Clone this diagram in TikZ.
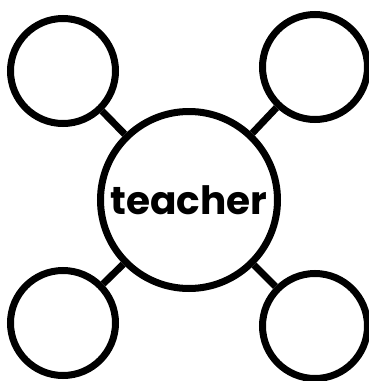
\documentclass[tikz,border=0pt]{standalone}
\usepackage{fontspec}
\setmainfont{Poppins}
\usetikzlibrary{positioning}

\begin{document}
\begin{tikzpicture}[x=1pt,y=-1pt, every node/.style={font=\fontsize{39}{42}\selectfont\bfseries}, bubble/.style={draw,circle,line width=7pt,inner sep=0pt}, small/.style={bubble,minimum size=105pt}, link/.style={line width=7pt}]
\useasboundingbox (0,0) rectangle (369,381);
\node[bubble,minimum size=177pt] (teacher) at (189,200) {teacher};
\node[small] (tl) at (63,71) {};
\node[small] (tr) at (315,67) {};
\node[small] (bl) at (63,323) {};
\node[small] (br) at (315,326) {};
\draw[link] (teacher)--(tl);\draw[link] (teacher)--(tr);\draw[link] (teacher)--(bl);\draw[link] (teacher)--(br);
\end{tikzpicture}
\end{document}
